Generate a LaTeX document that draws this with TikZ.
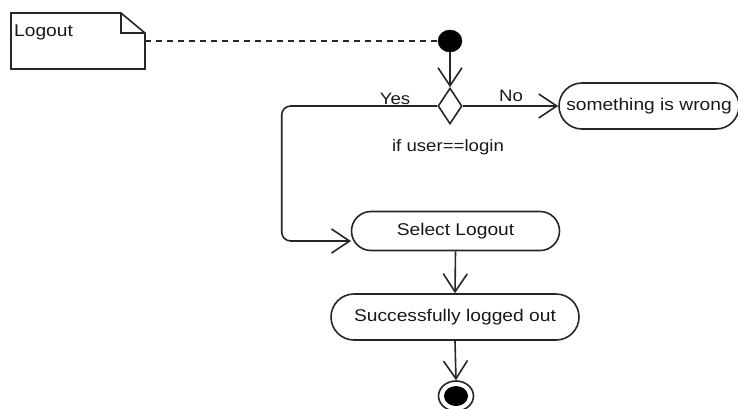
\documentclass[tikz,border=0pt]{standalone}
\usepackage{fontspec}
\setmainfont{Liberation Sans}
\usetikzlibrary{arrows.meta,shapes.geometric,shapes.misc}
\newcommand\sx[1]{\scalebox{1.13}[1]{#1}}
\begin{document}
\begin{tikzpicture}[x=1pt,y=-1pt,
  ln/.style={draw=black!85, line width=1.6pt},
  arr/.style={ln, -{Straight Barb[length=18pt,width=24pt,line width=1.6pt]}},
  act/.style={ln, rounded rectangle, inner sep=0pt, fill=white, font=\fontsize{17}{20}\selectfont, text=black!90},
  txt/.style={font=\fontsize{17}{20}\selectfont, text=black!90, inner sep=0pt},
  lbl/.style={font=\fontsize{16.5}{19}\selectfont, text=black!90, inner sep=0pt}]
\useasboundingbox (0,0) rectangle (738,408);
% note
\draw[ln, fill=white] (11,13) -- (121,13) -- (145,33) -- (145,69) -- (11,69) -- cycle;
\draw[ln] (121,13) -- (121,33) -- (145,33);
\node[txt, anchor=west] (note) at (14,32) {\sx{Logout}};
\coordinate (noteR) at (145,41);
% start
\node[ellipse, fill=black, draw=black, minimum width=24pt, minimum height=22pt, inner sep=0pt] (start) at (450,41) {};
\draw[ln, dashed, dash pattern=on 6pt off 5pt] (noteR) -- (start.west);
% decision
\node[diamond, ln, fill=white, minimum width=24pt, minimum height=36pt, inner sep=0pt, aspect=0.667] (dec) at (450,106) {};
\draw[arr] (start) -- (dec.north);
% wrong
\node[act, minimum width=180pt, minimum height=46pt] (wrong) at (649,106) {\sx{something is wrong}};
\draw[arr] (dec.east) -- (wrong.west);
\node[lbl] (no) at (511,96) {\sx{No}};
\node[lbl] (yes) at (395,99) {\sx{Yes}};
\node[lbl] (cond) at (448,147) {\sx{if user==login}};
% select
\node[act, minimum width=208pt, minimum height=39pt] (sel) at (455.5,231) {\sx{Select Logout}};
\coordinate (selin) at (351,241);
\draw[arr, rounded corners=9pt] (dec.west) -- (281.7,106) -- (281.7,241) -- (selin);
% success
\node[act, minimum width=248pt, minimum height=46pt] (succ) at (455,317) {\sx{Successfully logged out}};
\draw[arr] (sel.south) -- (succ.north);
% end
\node[ellipse, ln, fill=white, minimum width=35pt, minimum height=30pt, inner sep=0pt] (endo) at (456,396) {};
\node[ellipse, fill=black, minimum width=24pt, minimum height=20pt, inner sep=0pt] (endi) at (endo.center) {};
\draw[arr] (succ.south) -- (endo.north);
\end{tikzpicture}
\end{document}
